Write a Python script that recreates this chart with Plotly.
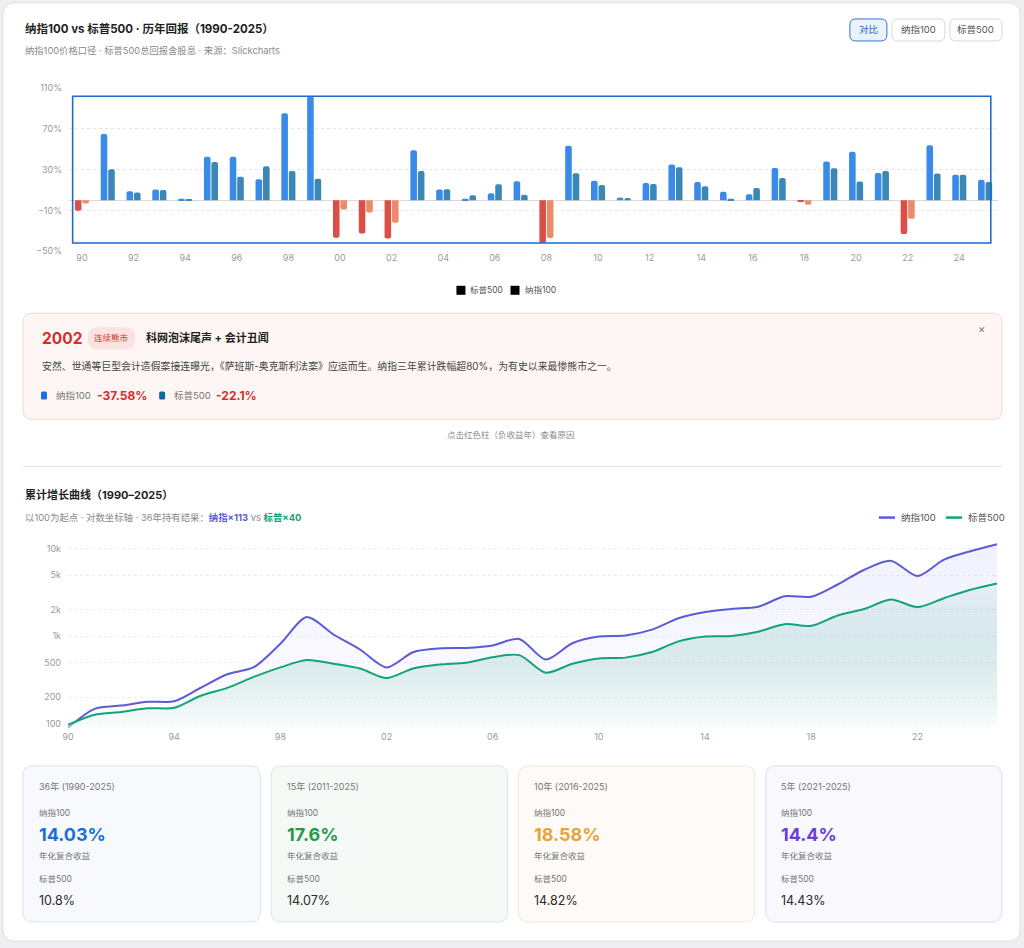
import math
import plotly.graph_objects as go

# ---------------- data ----------------
years = list(range(1990, 2026))
ndx_returns = [-10.41, 64.99, 8.86, 10.58, 1.50, 42.54, 42.54, 20.63, 85.31, 101.95,
               -36.84, -32.65, -37.58, 49.12, 10.44, 1.49, 6.79, 18.67, -41.89, 53.54,
               19.22, 2.70, 16.82, 34.99, 17.94, 8.43, 5.89, 31.52, -1.04, 37.96,
               47.58, 26.63, -33.10, 53.81, 24.88, 20.17]
spx_returns = [-3.10, 30.47, 7.62, 10.08, 1.32, 37.58, 22.96, 33.36, 28.58, 21.04,
               -9.10, -11.89, -22.10, 28.68, 10.88, 4.91, 15.79, 5.49, -37.00, 26.46,
               15.06, 2.11, 16.00, 32.39, 13.69, 1.38, 11.96, 21.83, -4.38, 31.49,
               18.40, 28.71, -18.11, 26.29, 25.02, 17.88]
bar_ticks = list(range(1990, 2026, 2))
line_ticks = list(range(1990, 2026, 4))
log_tickvals = [100, 200, 500, 1000, 2000, 5000, 10000]
log_ticktext = ["100", "200", "500", "1k", "2k", "5k", "10k"]

card_titles = ["36年 (1990-2025)", "15年 (2011-2025)", "10年 (2016-2025)", "5年 (2021-2025)"]
card_ndx = ["14.03%", "17.6%", "18.58%", "14.4%"]
card_spx = ["10.8%", "14.07%", "14.82%", "14.43%"]

# cumulative growth from 100 (derived from the annual returns above)
ndx_cum, spx_cum = [], []
a, b = 100.0, 100.0
for rn, rs in zip(ndx_returns, spx_returns):
    a *= 1 + rn / 100
    b *= 1 + rs / 100
    ndx_cum.append(a)
    spx_cum.append(b)

# ---------------- helpers ----------------
W, H = 1024, 948
FONT = "Inter, 'Noto Sans CJK SC', sans-serif"
# mapping of target screen pixels to figure paper
SX, OX = 0.9931, 7.03
SY, OY = 0.9872, 6.05


def X(v):
    return ((v - OX) / SX) / W


def Y(v):
    return 1 - ((v - OY) / SY) / H


def rrect(x0, y0, x1, y1, r, fill, line=None, lw=1):
    rx, ry = r, r
    pts = [
        ("M", [(x0 + rx, y0)]),
        ("L", [(x1 - rx, y0)]),
        ("Q", [(x1, y0), (x1, y0 + ry)]),
        ("L", [(x1, y1 - ry)]),
        ("Q", [(x1, y1), (x1 - rx, y1)]),
        ("L", [(x0 + rx, y1)]),
        ("Q", [(x0, y1), (x0, y1 - ry)]),
        ("L", [(x0, y0 + ry)]),
        ("Q", [(x0, y0), (x0 + rx, y0)]),
    ]
    s = ""
    for cmd, ps in pts:
        s += cmd + " " + " ".join(f"{X(px):.6f},{Y(py):.6f}" for px, py in ps) + " "
    s += "Z"
    return dict(type="path", xref="paper", yref="paper", path=s, fillcolor=fill,
                line=dict(color=line if line else "rgba(0,0,0,0)", width=lw if line else 0),
                layer="below")


annotations = []


def text(x, y, t, size=10, color="#333", anchor="left", bold=False, vanchor="middle"):
    if bold:
        t = f"<b>{t}</b>"
    annotations.append(dict(x=X(x), y=Y(y), xref="paper", yref="paper", text=t,
                            showarrow=False, xanchor=anchor, yanchor=vanchor,
                            font=dict(size=size, color=color, family=FONT)))


shapes = []

# page card
shapes.append(rrect(4, 3, 1020, 940, 12, "#ffffff", "#e2e2e4", 1))

# ---------------- header ----------------
text(24, 29, "纳指100 vs 标普500 · 历年回报（1990-2025）", 11.5, "#1f1f1f", bold=True)
text(24, 50, "纳指100价格口径 · 标普500总回报含股息 · 来源：Slickcharts", 9.3, "#8a8a8a")

btns = [(850, 887, "对比", True), (892, 945, "纳指100", False), (950, 1002, "标普500", False)]
for x0, x1, lab, act in btns:
    if act:
        shapes.append(rrect(x0, 19, x1, 41, 6, "#eaf2fd", "#2f74d0", 1))
        text((x0 + x1) / 2, 30, lab, 9.5, "#1d63c2", anchor="center")
    else:
        shapes.append(rrect(x0, 19, x1, 41, 6, "#ffffff", "#d8d8d8", 1))
        text((x0 + x1) / 2, 30, lab, 9.5, "#555555", anchor="center")

# ---------------- bar chart ----------------
ndx_colors = ["#3a8be8" if v >= 0 else "#da5048" for v in ndx_returns]
spx_colors = ["#3b87b5" if v >= 0 else "#ec8a6c" for v in spx_returns]

fig = go.Figure()
fig.add_trace(go.Bar(x=years, y=ndx_returns, marker=dict(color=ndx_colors, line=dict(width=0)),
                     name="纳指100", xaxis="x", yaxis="y", showlegend=False))
fig.add_trace(go.Bar(x=years, y=spx_returns, marker=dict(color=spx_colors, line=dict(width=0)),
                     name="标普500", xaxis="x", yaxis="y", showlegend=False))

# data-extent frame
shapes.append(dict(type="rect", xref="x", yref="y", x0=1989.64, x1=2025.22,
                   y0=min(ndx_returns + spx_returns), y1=max(ndx_returns + spx_returns),
                   line=dict(color="#1f6ad0", width=1.6), fillcolor="rgba(0,0,0,0)", layer="above"))

# bar legend
shapes.append(dict(type="rect", xref="paper", yref="paper", x0=X(457), x1=X(466), y0=Y(294.5), y1=Y(285.5),
                   fillcolor="#000", line=dict(width=0)))
text(469, 290, "标普500", 8.5, "#555")
shapes.append(dict(type="rect", xref="paper", yref="paper", x0=X(511), x1=X(520), y0=Y(294.5), y1=Y(285.5),
                   fillcolor="#000", line=dict(width=0)))
text(523, 290, "纳指100", 8.5, "#555")

# ---------------- info box ----------------
shapes.append(rrect(24, 313, 1002, 419, 9, "#fdf6f4", "#f3d7d1", 1))
text(41, 338, "2002", 15.5, "#d32f2f", bold=True)
shapes.append(rrect(89, 327, 136, 349, 10, "#fbe1df"))
text(112.5, 338, "连续熊市", 8.5, "#d0372f", anchor="center")
text(145, 338, "科网泡沫尾声 + 会计丑闻", 11, "#1f1f1f", bold=True)
text(982, 329, "×", 11, "#777", anchor="center")
text(41, 366, "安然、世通等巨型会计造假案接连曝光，《萨班斯-奥克斯利法案》应运而生。纳指三年累计跌幅超80%，为有史以来最惨熊市之一。",
     9.9, "#444")
shapes.append(rrect(42, 391, 48, 399, 1.5, "#1a6fe0"))
text(55, 395, "纳指100", 9.5, "#777")
text(96, 395, "-37.58%", 12, "#d32f2f", bold=True)
shapes.append(rrect(160, 391, 166, 399, 1.5, "#0f6a9a"))
text(173, 395, "标普500", 9.5, "#777")
text(215, 395, "-22.1%", 12, "#d32f2f", bold=True)

text(512, 435, "点击红色柱（负收益年）查看原因", 8.5, "#8a8a8a", anchor="center")

# divider
shapes.append(dict(type="line", xref="paper", yref="paper", x0=X(24), x1=X(1002), y0=Y(466), y1=Y(466),
                   line=dict(color="#e6e6e6", width=1)))

# ---------------- line chart ----------------
text(24, 494, "累计增长曲线（1990–2025）", 11, "#1f1f1f", bold=True)
text(24, 517, "以100为起点 · 对数坐标轴 · 36年持有结果：<b><span style='color:#5a5ad6'>纳指×113</span></b>"
              " vs <b><span style='color:#12a37a'>标普×40</span></b>", 9.4, "#8a8a8a")
shapes.append(dict(type="line", xref="paper", yref="paper", x0=X(879), x1=X(895), y0=Y(517), y1=Y(517),
                   line=dict(color="#5b5bd6", width=2.5)))
text(899, 517, "纳指100", 9.5, "#555")
shapes.append(dict(type="line", xref="paper", yref="paper", x0=X(946), x1=X(962), y0=Y(517), y1=Y(517),
                   line=dict(color="#12a37a", width=2.5)))
text(966, 517, "标普500", 9.5, "#555")

ylo, yhi = math.log10(85), math.log10(12400)
base = [10 ** ylo] * len(years)

fig.add_trace(go.Scatter(x=years, y=base, mode="lines", line=dict(width=0),
                         xaxis="x2", yaxis="y2", showlegend=False, hoverinfo="skip"))
fig.add_trace(go.Scatter(x=years, y=ndx_cum, mode="lines", name="纳指100",
                         line=dict(color="#5b5bd6", width=2, shape="spline", smoothing=0.8),
                         fill="tonexty",
                         fillgradient=dict(type="vertical",
                                           colorscale=[[0, "rgba(99,102,241,0.01)"], [1, "rgba(99,102,241,0.09)"]]),
                         xaxis="x2", yaxis="y2", showlegend=False))
fig.add_trace(go.Scatter(x=years, y=base, mode="lines", line=dict(width=0),
                         xaxis="x2", yaxis="y2", showlegend=False, hoverinfo="skip"))
fig.add_trace(go.Scatter(x=years, y=spx_cum, mode="lines", name="标普500",
                         line=dict(color="#12a37a", width=2, shape="spline", smoothing=0.8),
                         fill="tonexty",
                         fillgradient=dict(type="vertical",
                                           colorscale=[[0, "rgba(255,255,255,0.55)"], [1, "rgba(40,150,140,0.06)"]]),
                         xaxis="x2", yaxis="y2", showlegend=False))

# ---------------- stat cards ----------------
cards = [
    (24, 261, "#f7f9fd", "#d9e5f2", "#1a6fd4"),
    (272, 508, "#f6faf7", "#dbeae0", "#1f9a4c"),
    (519, 755, "#fdfaf7", "#f4e8db", "#e8a43a"),
    (766, 1002, "#f8f8fd", "#dfdff2", "#6b3fd9"),
]
for (x0, x1, bg, bd, col), t, vn, vs in zip(cards, card_titles, card_ndx, card_spx):
    shapes.append(rrect(x0, 765, x1, 921, 10, bg, bd, 1))
    tx = x0 + 13.5
    text(tx, 786, t, 9, "#777")
    text(tx, 812, "纳指100", 8.5, "#777")
    text(tx, 834, vn, 18, col, bold=True)
    text(tx, 855, "年化复合收益", 8.5, "#777")
    text(tx, 878, "标普500", 8.5, "#777")
    text(tx, 899, vs, 12.5, "#2a2a2a")

axis_font = dict(size=9, color="#9a9a9a", family=FONT)
fig.update_layout(
    width=W, height=H,
    margin=dict(l=0, r=0, t=0, b=0),
    paper_bgcolor="#efeff1",
    plot_bgcolor="rgba(0,0,0,0)",
    font=dict(family=FONT),
    barmode="group", bargap=0.42, bargroupgap=0.12, barcornerradius=2,
    showlegend=False,
    xaxis=dict(domain=[X(70), X(998)], range=[1989.5, 2025.5], tickvals=bar_ticks,
               ticktext=[f"{v % 100:02d}" for v in bar_ticks], tickfont=axis_font,
               showgrid=False, zeroline=False, showline=False, ticks="", anchor="y"),
    yaxis=dict(domain=[Y(251), Y(88)], range=[-50, 110], tick0=-50, dtick=40, ticksuffix="%",
               tickfont=axis_font, showgrid=True, gridcolor="#e4e4e4", griddash="dot", gridwidth=1,
               zeroline=True, zerolinecolor="#dadada", zerolinewidth=1, showline=False,
               ticks="", ticklabelstandoff=6, anchor="x"),
    xaxis2=dict(domain=[X(69), X(997)], range=[1990, 2025], tickvals=line_ticks,
                ticktext=[f"{v % 100:02d}" for v in line_ticks], tickfont=axis_font,
                showgrid=False, zeroline=False, showline=False, ticks="", anchor="y2"),
    yaxis2=dict(domain=[Y(729), Y(540)], type="log", range=[ylo, yhi], tickvals=log_tickvals,
                ticktext=log_ticktext, tickfont=axis_font, showgrid=True, gridcolor="#ececec",
                griddash="dot", zeroline=False, showline=False, ticks="", ticklabelstandoff=6,
                anchor="x2"),
    shapes=shapes,
    annotations=annotations,
)

fig.write_html("out.html",
               post_script="document.body.style.margin='0';document.body.style.overflow='hidden';")
